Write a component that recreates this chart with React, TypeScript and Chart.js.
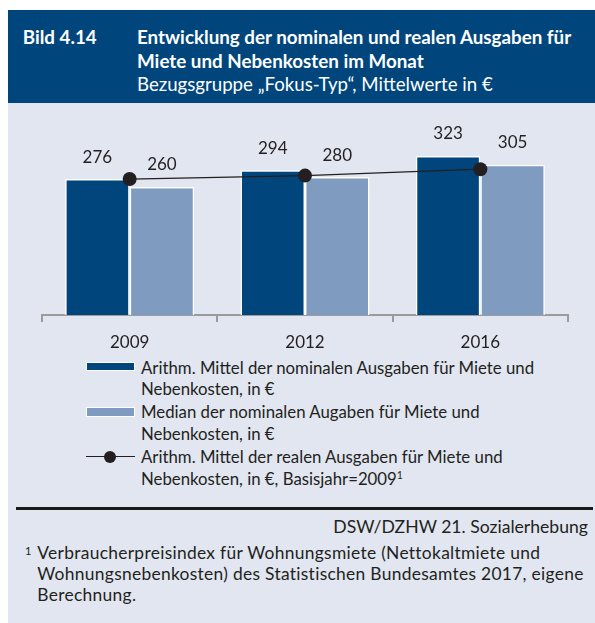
import React, { useEffect, useRef } from 'react';
import { Chart, registerables } from 'chart.js';
Chart.register(...registerables);

const years = ['2009', '2012', '2016'];
const nominalMean = [276, 294, 323];
const nominalMedian = [260, 280, 305];
const realMean = [276, 283, 296];
const yMax = 400;

const FONT = 'Lato, "Open Sans", sans-serif';
const DARK = '#00467d';
const LIGHT = '#7f9bbf';
const PANEL = '#e1e6f0';
const INK = '#231f20';
const AXIS = '#9b9b9b';

const titleLines = [
  'Entwicklung der nominalen und realen Ausgaben für',
  'Miete und Nebenkosten im Monat',
];
const subtitle = 'Bezugsgruppe „Fokus-Typ“, Mittelwerte in €';
const legendItems = [
  ['Arithm. Mittel der nominalen Ausgaben für Miete und', 'Nebenkosten, in €'],
  ['Median der nominalen Augaben für Miete und', 'Nebenkosten, in €'],
  ['Arithm. Mittel der realen Ausgaben für Miete und', 'Nebenkosten, in €, Basisjahr=2009'],
];
const source = 'DSW/DZHW 21. Sozialerhebung';
const footnoteLines = [
  'Verbraucherpreisindex für Wohnungsmiete (Nettokaltmiete und',
  'Wohnungsnebenkosten) des Statistischen Bundesamtes 2017, eigene',
  'Berechnung.',
];

function T(props: { x: number; base: number; size: number; weight?: number; color?: string; right?: boolean; spacing?: number; children: React.ReactNode }) {
  const { x, base, size, weight = 400, color = INK, right = false, spacing = 0, children } = props;
  const style: React.CSSProperties = {
    position: 'absolute',
    top: base - 0.81 * size,
    fontFamily: FONT,
    fontSize: size,
    fontWeight: weight,
    lineHeight: `${size * 1.2}px`,
    letterSpacing: spacing,
    color,
    whiteSpace: 'nowrap',
  };
  if (right) style.right = 595 - x;
  else style.left = x;
  return <div style={style}>{children}</div>;
}

const valueLabels = {
  id: 'valueLabels',
  afterDatasetsDraw(chart: any) {
    const ctx = chart.ctx;
    ctx.save();
    ctx.font = `17px ${FONT}`;
    ctx.fillStyle = INK;
    ctx.textAlign = 'center';
    ctx.textBaseline = 'middle';
    [0, 1].forEach((di) => {
      const meta = chart.getDatasetMeta(di);
      meta.data.forEach((bar: any, i: number) => {
        const v = chart.data.datasets[di].data[i];
        ctx.fillText(String(v), bar.x, bar.y - 22);
      });
    });
    ctx.restore();
  },
};

function BarChart() {
  const ref = useRef<HTMLCanvasElement>(null);
  useEffect(() => {
    if (!ref.current) return;
    const chart = new Chart(ref.current, {
      type: 'bar',
      data: {
        labels: years,
        datasets: [
          {
            type: 'bar',
            label: legendItems[0].join(' '),
            data: nominalMean,
            backgroundColor: DARK,
            borderColor: '#ffffff',
            borderWidth: 1.5,
            barPercentage: 1,
            categoryPercentage: 0.736,
            order: 1,
          },
          {
            type: 'bar',
            label: legendItems[1].join(' '),
            data: nominalMedian,
            backgroundColor: LIGHT,
            borderColor: '#ffffff',
            borderWidth: 1.5,
            barPercentage: 1,
            categoryPercentage: 0.736,
            order: 1,
          },
          {
            type: 'line',
            label: legendItems[2].join(' '),
            data: realMean,
            borderColor: INK,
            borderWidth: 1.2,
            pointRadius: 7,
            pointBackgroundColor: INK,
            pointBorderColor: INK,
            pointBorderWidth: 0,
            order: 0,
          } as any,
        ],
      },
      options: {
        responsive: false,
        animation: false,
        events: [],
        layout: { padding: { left: 42, right: 27, top: 15, bottom: 0 } },
        plugins: { legend: { display: false }, tooltip: { enabled: false } },
        scales: {
          y: { display: false, min: 0, max: yMax },
          x: {
            afterFit: (scale: any) => { scale.height = 38; },
            grid: {
              offset: true,
              drawOnChartArea: false,
              drawTicks: true,
              tickLength: 7,
              color: AXIS,
              lineWidth: 2,
            },
            border: { display: true, color: AXIS, width: 2 },
            ticks: { color: INK, font: { family: FONT, size: 17 }, padding: 10 },
          },
        },
      },
      plugins: [valueLabels],
    });
    return () => chart.destroy();
  }, []);
  return <canvas ref={ref} width={595} height={250} style={{ position: 'absolute', left: 0, top: 103, width: 595, height: 250 }} />;
}

export default function App() {
  const legendBase = [[371.7, 392.3], [415.7, 437.3], [461, 482.7]];
  return (
    <div style={{ position: 'absolute', left: 0, top: 0, width: 595, height: 623, background: '#ffffff', overflow: 'hidden' }}>
      <div style={{ position: 'absolute', left: 8, top: 10, width: 587, height: 613, background: PANEL }} />
      <div style={{ position: 'absolute', left: 8, top: 10, width: 587, height: 93, background: DARK }} />
      <T x={22.7} base={41.7} size={18.8} weight={700} color="#ffffff">Bild 4.14</T>
      <T x={137} base={41.7} size={18.8} weight={700} color="#ffffff">{titleLines[0]}</T>
      <T x={137} base={64.8} size={18.8} weight={700} color="#ffffff">{titleLines[1]}</T>
      <T x={137} base={88.3} size={18.65} weight={400} color="#ffffff">{subtitle}</T>
      <BarChart />
      {/* legend */}
      <div style={{ position: 'absolute', left: 86, top: 362, width: 47, height: 7, background: DARK, border: '1px solid #fff' }} />
      <div style={{ position: 'absolute', left: 86, top: 406.5, width: 47, height: 8, background: LIGHT, border: '1px solid #fff' }} />
      <div style={{ position: 'absolute', left: 86, top: 456, width: 49, height: 1.3, background: INK }} />
      <div style={{ position: 'absolute', left: 104, top: 450.7, width: 12, height: 12, borderRadius: 6, background: INK }} />
      {legendItems.map((lines, i) => (
        <React.Fragment key={i}>
          <T x={141} base={legendBase[i][0]} size={16.8}>{lines[0]}</T>
          <T x={141} base={legendBase[i][1]} size={16.8}>
            {lines[1]}
            {i === 2 ? <span style={{ fontSize: 10.5, position: 'relative', top: -6 }}>1</span> : null}
          </T>
        </React.Fragment>
      ))}
      {/* footer */}
      <div style={{ position: 'absolute', left: 16, top: 507, width: 577, height: 3, background: '#1a1a1a' }} />
      <T x={588} base={530} size={17.6} right>{source}</T>
      <T x={25} base={553} size={11}>1</T>
      <T x={37.3} base={557} size={17.4} spacing={0.3}>{footnoteLines[0]}</T>
      <T x={37.3} base={578} size={17.4} spacing={0.3}>{footnoteLines[1]}</T>
      <T x={37.3} base={599} size={17.4} spacing={0.3}>{footnoteLines[2]}</T>
    </div>
  );
}
